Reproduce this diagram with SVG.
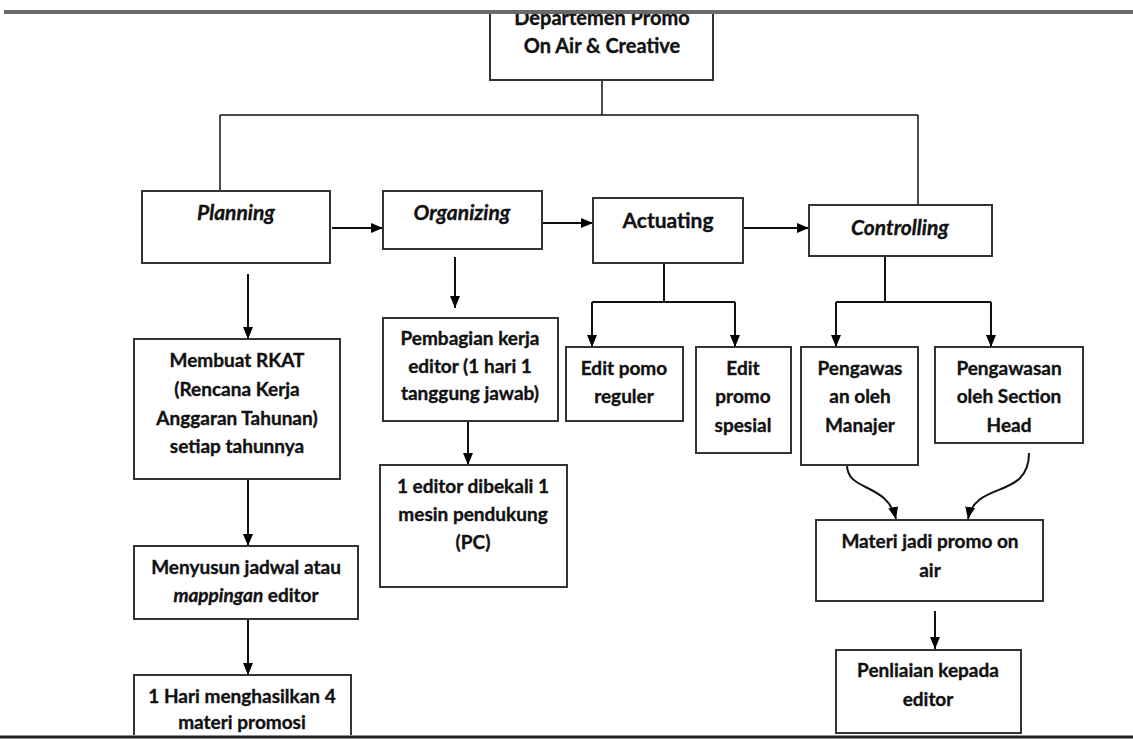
<svg xmlns="http://www.w3.org/2000/svg" width="1133" height="740" viewBox="0 0 1133 740">
<defs>
<marker id="ah" markerWidth="12" markerHeight="12" viewBox="0 0 12 12" refX="12" refY="6" orient="auto" markerUnits="userSpaceOnUse">
<path d="M0,1 L12,6 L0,11 Z" fill="#000"/>
</marker>
<style>
.box{fill:#fff;stroke:#333;stroke-width:2}
.t{font-family:Lato,"Open Sans","Liberation Sans",sans-serif;font-weight:bold;font-size:19px;fill:#111;stroke:#111;stroke-width:0.35;text-anchor:middle}
.h{font-size:21px}
.i{font-style:italic}
.c{fill:none;stroke:#111;stroke-width:2}
.ca{fill:none;stroke:#111;stroke-width:2;marker-end:url(#ah)}
</style>
</defs>
<rect width="1133" height="740" fill="#fff"/>

<g id="connectors">
<path class="c" d="M602,80 V115 M220,115 H918 M220,115 V191 M918,115 V205" style="stroke-width:1.5"/>
<path class="ca" d="M332,228 H383"/>
<path class="ca" d="M542,223 H593"/>
<path class="ca" d="M743,228 H809"/>
<path class="ca" d="M248,274 V339"/>
<path class="ca" d="M455,257 V308"/>
<path class="ca" d="M468,421 V465"/>
<path class="c" d="M664,263 V302 M592,302 H735"/>
<path class="ca" d="M592,302 V347"/>
<path class="ca" d="M735,302 V347"/>
<path class="c" d="M885,256 V302 M836,302 H991"/>
<path class="ca" d="M836,302 V347"/>
<path class="ca" d="M991,302 V347"/>
<path class="ca" d="M847,465 C847,492 887,482 896,519"/>
<path class="ca" d="M1029,453 C1029,500 975,480 968,519"/>
<path class="ca" d="M935,611 V649"/>
<path class="ca" d="M248,479 V546"/>
<path class="ca" d="M248,619 V675"/>
</g>

<g id="dept">
<rect class="box" x="490" y="2" width="223" height="78"/>
<text class="t" x="602" y="25" style="font-size:20px">Departemen Promo</text>
<text class="t" x="602" y="53" style="font-size:20px">On Air &amp; Creative</text>
</g>

<g id="planning">
<rect class="box" x="142" y="191" width="188" height="72"/>
<text class="t h i" x="236" y="220">Planning</text>
</g>
<g id="organizing">
<rect class="box" x="383" y="191" width="159" height="58"/>
<text class="t h i" x="462" y="220">Organizing</text>
</g>
<g id="actuating">
<rect class="box" x="593" y="198" width="150" height="65"/>
<text class="t h" x="668" y="228">Actuating</text>
</g>
<g id="controlling">
<rect class="box" x="809" y="205" width="183" height="51"/>
<text class="t h i" x="900" y="235">Controlling</text>
</g>

<g id="rkat">
<rect class="box" x="134" y="339" width="206" height="140"/>
<text class="t" x="237" y="367">Membuat RKAT</text>
<text class="t" x="237" y="396">(Rencana Kerja</text>
<text class="t" x="237" y="425">Anggaran Tahunan)</text>
<text class="t" x="237" y="453">setiap tahunnya</text>
</g>
<g id="menyusun">
<rect class="box" x="134" y="546" width="224" height="73"/>
<text class="t" x="246" y="574">Menyusun jadwal atau</text>
<text class="t" x="246" y="602"><tspan class="i">mappingan</tspan> editor</text>
</g>
<g id="hari">
<rect class="box" x="134" y="675" width="217" height="70"/>
<text class="t" x="242" y="703">1 Hari menghasilkan 4</text>
<text class="t" x="242" y="729">materi promosi</text>
</g>

<g id="pembagian">
<rect class="box" x="383" y="318" width="175" height="103"/>
<text class="t" x="470" y="345">Pembagian kerja</text>
<text class="t" x="470" y="373">editor (1 hari 1</text>
<text class="t" x="470" y="400">tanggung jawab)</text>
</g>
<g id="editor">
<rect class="box" x="380" y="465" width="187" height="122"/>
<text class="t" x="473" y="493">1 editor dibekali 1</text>
<text class="t" x="473" y="521">mesin pendukung</text>
<text class="t" x="473" y="549">(PC)</text>
</g>

<g id="reguler">
<rect class="box" x="566" y="347" width="117" height="74"/>
<text class="t" x="624" y="375">Edit pomo</text>
<text class="t" x="624" y="403">reguler</text>
</g>
<g id="spesial">
<rect class="box" x="696" y="347" width="95" height="106"/>
<text class="t" x="743" y="375">Edit</text>
<text class="t" x="743" y="403">promo</text>
<text class="t" x="743" y="432">spesial</text>
</g>
<g id="manajer">
<rect class="box" x="801" y="347" width="117" height="118"/>
<text class="t" x="860" y="375">Pengawas</text>
<text class="t" x="860" y="403">an oleh</text>
<text class="t" x="860" y="432">Manajer</text>
</g>
<g id="section">
<rect class="box" x="935" y="347" width="148" height="96"/>
<text class="t" x="1009" y="375">Pengawasan</text>
<text class="t" x="1009" y="403">oleh Section</text>
<text class="t" x="1009" y="432">Head</text>
</g>
<g id="materi">
<rect class="box" x="816" y="520" width="227" height="81"/>
<text class="t" x="930" y="548">Materi jadi promo on</text>
<text class="t" x="930" y="577">air</text>
</g>
<g id="penilaian">
<rect class="box" x="836" y="650" width="185" height="83"/>
<text class="t" x="928" y="677">Penliaian kepada</text>
<text class="t" x="928" y="706">editor</text>
</g>

<rect x="0" y="0" width="1133" height="10" fill="#fff"/>
<line x1="4" y1="12" x2="1133" y2="12" stroke="#6a6a6a" stroke-width="4"/>
<rect x="0" y="735" width="1133" height="5" fill="#fff"/>
<line x1="0" y1="737" x2="1133" y2="737" stroke="#222" stroke-width="3"/>
</svg>
